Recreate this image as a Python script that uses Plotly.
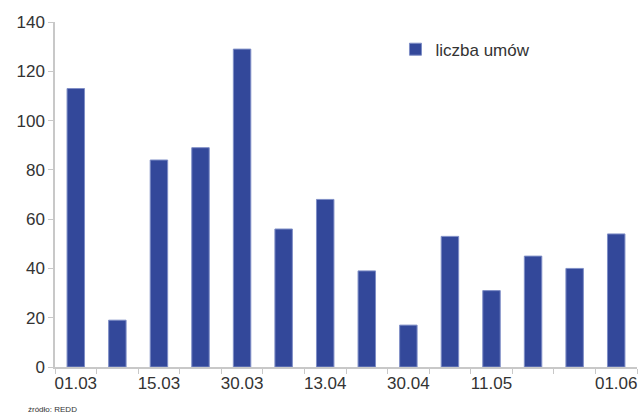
import plotly.graph_objects as go

# Number of contracts per reporting date
categories = ["01.03", "08.03", "15.03", "22.03", "30.03", "06.04", "13.04",
              "20.04", "30.04", "04.05", "11.05", "18.05", "25.05", "01.06"]
tick_labels = ["01.03", "", "15.03", "", "30.03", "", "13.04",
               "", "30.04", "", "11.05", "", "", "01.06"]
contracts = [113, 19, 84, 89, 129, 56, 68, 39, 17, 53, 31, 45, 40, 54]
y_ticks = [0, 20, 40, 60, 80, 100, 120, 140]

fig = go.Figure()
fig.add_trace(go.Bar(
    x=categories, y=contracts, name="liczba umów",
    width=0.42,
    marker=dict(color="#33489a", line=dict(color="#7f8ec6", width=1)),
))

fig.update_layout(
    width=640, height=413,
    margin=dict(l=55, r=3, t=22, b=46, autoexpand=False),
    paper_bgcolor="white", plot_bgcolor="white",
    font=dict(family="Liberation Sans, Arial, sans-serif", size=17, color="#333333"),
    showlegend=True,
    legend=dict(x=0.585, y=0.972, xanchor="left", yanchor="top",
                bgcolor="rgba(0,0,0,0)", font=dict(size=17, color="#333333"),
                itemwidth=30, tracegroupgap=0),
)
fig.update_xaxes(
    type="category", tickmode="array", tickvals=categories, ticktext=tick_labels,
    tickangle=0, automargin=False,
    tickson="boundaries", ticks="outside", ticklen=5, tickcolor="#c8c8c8",
    showline=True, linecolor="#c8c8c8", linewidth=1.5,
    showgrid=False, range=[-0.5, 13.5],
)
fig.update_yaxes(
    range=[0, 140], tickvals=y_ticks, ticks="outside", ticklen=5, automargin=False,
    tickcolor="#c8c8c8", showline=True, linecolor="#c8c8c8", linewidth=1.5,
    showgrid=False, zeroline=False,
)
fig.add_annotation(
    text="źródło: REDD", xref="paper", yref="paper", x=-0.05, y=-0.104,
    xanchor="left", yanchor="top", showarrow=False,
    font=dict(size=8, color="#333333"),
)

fig.write_html("out.html")
